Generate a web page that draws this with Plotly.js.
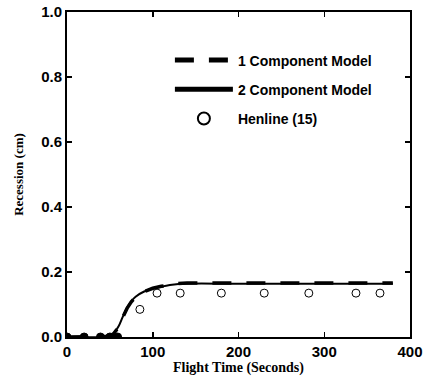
<!DOCTYPE html>
<html><head><meta charset="utf-8">
<script src="https://cdn.plot.ly/plotly-3.0.1.min.js"></script>
<style>html,body{margin:0;padding:0;background:#fff}#chart{width:425px;height:377px}</style>
</head><body><div id="chart"></div>
<script>
const oneCompTime = [0, 40, 50, 55, 60, 65, 70, 75, 80, 90, 100, 110, 120, 130, 140, 200, 300, 380];
const oneCompRec  = [0, 0, 0.002, 0.012, 0.03, 0.06, 0.088, 0.108, 0.123, 0.14, 0.15, 0.156, 0.161, 0.165, 0.166, 0.166, 0.166, 0.166];
const twoCompTime = [0, 40, 50, 55, 60, 65, 70, 75, 80, 90, 100, 110, 120, 130, 140, 200, 300, 380];
const twoCompRec  = [0, 0, 0.003, 0.013, 0.032, 0.062, 0.09, 0.11, 0.124, 0.14, 0.149, 0.155, 0.16, 0.163, 0.164, 0.164, 0.164, 0.164];
const henlineTime = [85, 105, 132, 180, 230, 282, 337, 365, 0, 20, 39, 50, 59];
const henlineRec  = [0.085, 0.135, 0.135, 0.135, 0.135, 0.135, 0.135, 0.135, 0, 0, 0, 0, 0];
const xTicks = [0, 100, 200, 300, 400];
const yTicks = [0, 0.2, 0.4, 0.6, 0.8, 1.0];

const data = [
  {x: oneCompTime, y: oneCompRec, name: '1 Component Model', mode: 'lines', legendgroup: 'a',
   line: {color: '#000', width: 3.5, dash: '19px,15px'}},
  {x: twoCompTime, y: twoCompRec, name: '2 Component Model', mode: 'lines', legendgroup: 'b',
   line: {color: '#000', width: 2, shape: 'spline'}},
  {x: henlineTime, y: henlineRec, name: 'Henline (15)', mode: 'markers', legendgroup: 'c',
   marker: {symbol: 'circle', size: 8,
            color: henlineRec.map(v => v === 0 ? '#000' : '#fff'),
            line: {color: '#000', width: 1}}}
];

const layout = {
  width: 425, height: 377,
  margin: {l: 67, r: 15, t: 12, b: 40},
  paper_bgcolor: '#fff', plot_bgcolor: '#fff',
  showlegend: true,
  legend: {x: 0.30, y: 0.9, xanchor: 'left', yanchor: 'top', bgcolor: 'rgba(0,0,0,0)',
           font: {family: 'Liberation Sans, Arial, sans-serif', size: 14, color: '#000', weight: 'bold'},
           itemwidth: 58, itemsizing: 'constant', tracegroupgap: 8},
  xaxis: {range: [0, 400], tickvals: xTicks, ticks: 'inside', ticklen: 5, tickwidth: 1.5,
          showgrid: false, zeroline: false, showline: true, linecolor: '#000', linewidth: 2,
          mirror: 'ticks', tickcolor: '#000',
          tickfont: {family: 'Liberation Sans, Arial, sans-serif', size: 15, color: '#000', weight: 'bold'},
          title: {text: 'Flight Time (Seconds)', standoff: 2,
                  font: {family: 'Liberation Serif, serif', size: 14, color: '#000', weight: 'bold'}}},
  yaxis: {range: [0, 1], tickvals: yTicks, tickformat: '.1f', ticks: 'inside', ticklen: 5, tickwidth: 1.5,
          showgrid: false, zeroline: false, showline: true, linecolor: '#000', linewidth: 2,
          mirror: 'ticks', tickcolor: '#000',
          tickfont: {family: 'Liberation Sans, Arial, sans-serif', size: 15, color: '#000', weight: 'bold'},
          title: {text: 'Recession (cm)', standoff: 15,
                  font: {family: 'Liberation Serif, serif', size: 13, color: '#000', weight: 'bold'}}}
};

Plotly.newPlot('chart', data, layout, {staticPlot: true, displayModeBar: false});
</script></body></html>
